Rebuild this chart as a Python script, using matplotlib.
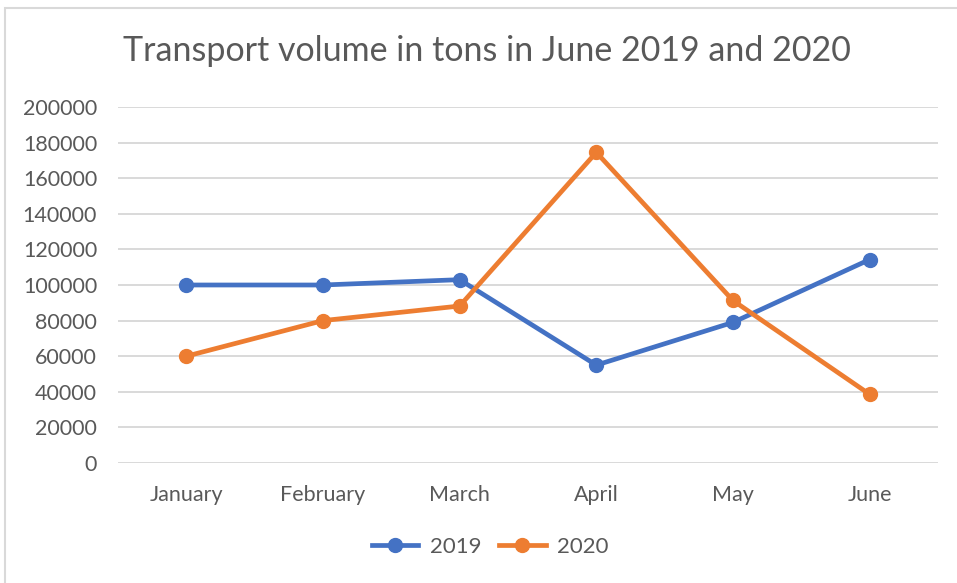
import matplotlib.pyplot as plt
from matplotlib.patches import Rectangle

months = ['January', 'February', 'March', 'April', 'May', 'June']
tons_2019 = [100000, 100000, 103000, 55000, 79000, 114300]
tons_2020 = [60000, 80000, 88200, 174500, 91300, 38600]
y_ticks = list(range(0, 200001, 20000))

plt.rcParams['font.family'] = ['Lato', 'DejaVu Sans']
grey = '#595959'

fig = plt.figure(figsize=(9.57, 5.83), dpi=100)
# chart frame, only the left and top edges fall inside the picture
fig.patches.append(Rectangle((0.0055, -0.05), 1.1, 1.036, transform=fig.transFigure,
                             fill=False, edgecolor='#D9D9D9', linewidth=1.5))
ax = fig.add_axes([0.1233, 0.2058, 0.8568, 0.6107])

x = range(len(months))
ax.plot(x, tons_2019, color='#4472C4', lw=3.4, marker='o', ms=10, label='2019')
ax.plot(x, tons_2020, color='#ED7D31', lw=3.4, marker='o', ms=10, label='2020')

ax.set_xlim(-0.5, len(months) - 0.5)
ax.set_ylim(0, 200000)
ax.set_yticks(y_ticks)
ax.set_xticks(list(x))
ax.set_xticklabels(months)
ax.grid(axis='y', color='#D9D9D9', lw=1.4)
ax.set_axisbelow(True)
for s in ax.spines.values():
    s.set_visible(False)
ax.tick_params(length=0, labelsize=15.5, colors=grey)
ax.tick_params(axis='y', pad=15)
ax.tick_params(axis='x', pad=16)

fig.text(0.509, 0.912, 'Transport volume in tons in June 2019 and 2020', fontsize=24.5,
         color=grey, ha='center', va='center')
fig.legend(loc='center', bbox_to_anchor=(0.512, 0.062), ncol=2, frameon=False,
           fontsize=16, labelcolor=grey, handlelength=2.1, handletextpad=0.5,
           columnspacing=0.8)

fig.savefig('out.png', dpi=100)
